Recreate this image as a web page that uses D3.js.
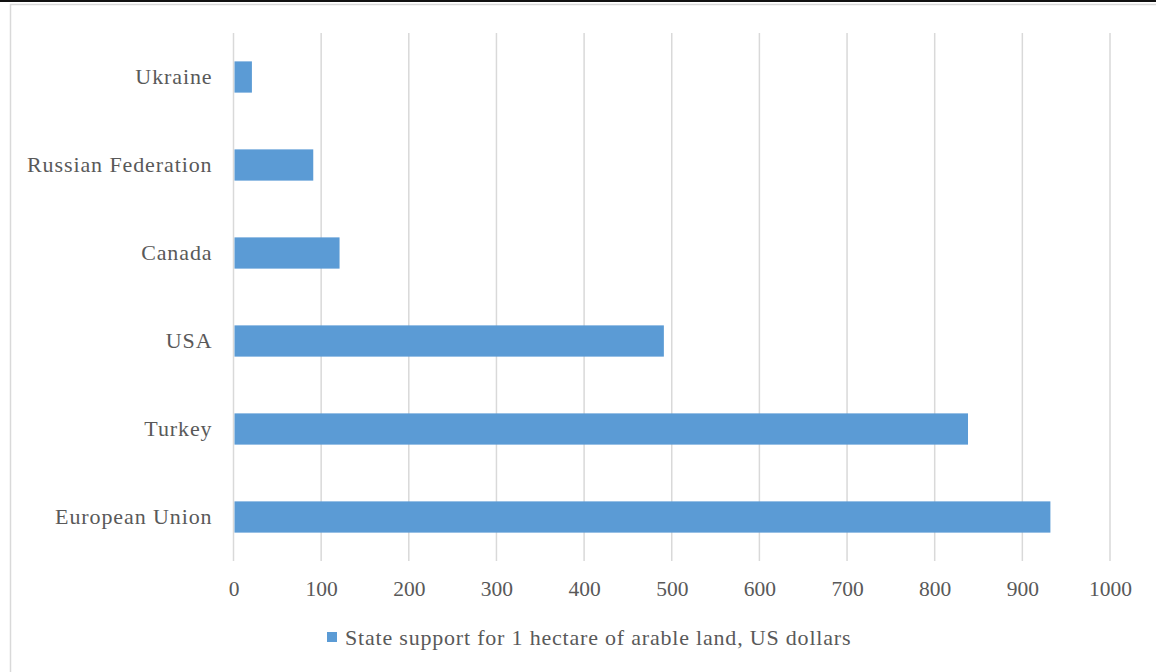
<!DOCTYPE html>
<html>
<head>
<meta charset="utf-8">
<script src="https://cdn.jsdelivr.net/npm/d3@7"></script>
<style>
  body { margin: 0; background: #fff; }
  svg { display: block; font-family: "Liberation Serif", "Times New Roman", serif; }
</style>
</head>
<body>
<div id="wrapper"></div>
<script>
// data (top to bottom)
const countries = ["Ukraine", "Russian Federation", "Canada", "USA", "Turkey", "European Union"];
const support = [21, 91, 121, 491, 838, 932];
const xTicks = [0, 100, 200, 300, 400, 500, 600, 700, 800, 900, 1000];
const seriesName = "State support for 1 hectare of arable land, US dollars";

const barColor = "#5b9bd5";
const textColor = "#595959";
const gridColor = "#d9d9d9";

const dimensions = {
  width: 1156,
  height: 672,
  margin: { top: 33, right: 46, bottom: 111, left: 233.5 },
};
dimensions.boundedWidth = dimensions.width - dimensions.margin.left - dimensions.margin.right;
dimensions.boundedHeight = dimensions.height - dimensions.margin.top - dimensions.margin.bottom;

const wrapper = d3.select("#wrapper")
  .append("svg")
    .attr("width", dimensions.width)
    .attr("height", dimensions.height);

// outer frame: dark top line + light chart border
wrapper.append("rect")
  .attr("x", 0).attr("y", 0)
  .attr("width", dimensions.width).attr("height", 2)
  .attr("fill", "#111");
wrapper.append("path")
  .attr("d", `M10.5,${dimensions.height} V4.5 H${dimensions.width}`)
  .attr("fill", "none")
  .attr("stroke", gridColor)
  .attr("stroke-width", 1.5);

const bounds = wrapper.append("g")
  .attr("transform", `translate(${dimensions.margin.left},${dimensions.margin.top})`);

const xScale = d3.scaleLinear()
  .domain([0, 1000])
  .range([0, dimensions.boundedWidth]);

// excel style: outer gap is half the inner gap
const yScale = d3.scaleBand()
  .domain(countries)
  .range([0, dimensions.boundedHeight])
  .paddingInner(0.645)
  .paddingOuter(0.3225);

// gridlines
bounds.append("g")
  .selectAll("line")
  .data(xTicks)
  .join("line")
    .attr("x1", d => xScale(d)).attr("x2", d => xScale(d))
    .attr("y1", 0).attr("y2", dimensions.boundedHeight)
    .attr("stroke", gridColor)
    .attr("stroke-width", 1.5);

// bars
bounds.append("g")
  .selectAll("rect")
  .data(countries)
  .join("rect")
    .attr("x", xScale(0) + 1)
    .attr("y", d => yScale(d))
    .attr("width", (d, i) => xScale(support[i]) - xScale(0) - 1)
    .attr("height", yScale.bandwidth())
    .attr("fill", barColor);

// x axis
const xAxis = bounds.append("g")
  .attr("transform", `translate(0,${dimensions.boundedHeight})`)
  .call(d3.axisBottom(xScale).tickValues(xTicks).tickFormat(d3.format("d")).tickSize(0).tickPadding(20));
xAxis.select(".domain").remove();
xAxis.selectAll("text")
  .attr("fill", textColor)
  .style("font-size", "21.5px")
  .style("font-family", "Liberation Serif, Times New Roman, serif");

// y axis
const yAxis = bounds.append("g")
  .call(d3.axisLeft(yScale).tickSize(0).tickPadding(21));
yAxis.select(".domain").remove();
yAxis.selectAll("text")
  .attr("fill", textColor)
  .style("font-size", "22px")
  .style("letter-spacing", "0.9px")
  .style("font-family", "Liberation Serif, Times New Roman, serif");

// legend
const legend = wrapper.append("g")
  .attr("transform", "translate(327,637)");
legend.append("rect")
  .attr("x", 0).attr("y", -5)
  .attr("width", 10).attr("height", 10)
  .attr("fill", barColor);
legend.append("text")
  .attr("x", 18).attr("y", 0)
  .attr("dy", "0.35em")
  .attr("fill", textColor)
  .style("font-size", "22px")
  .style("letter-spacing", "0.8px")
  .text(seriesName);
</script>
</body>
</html>
